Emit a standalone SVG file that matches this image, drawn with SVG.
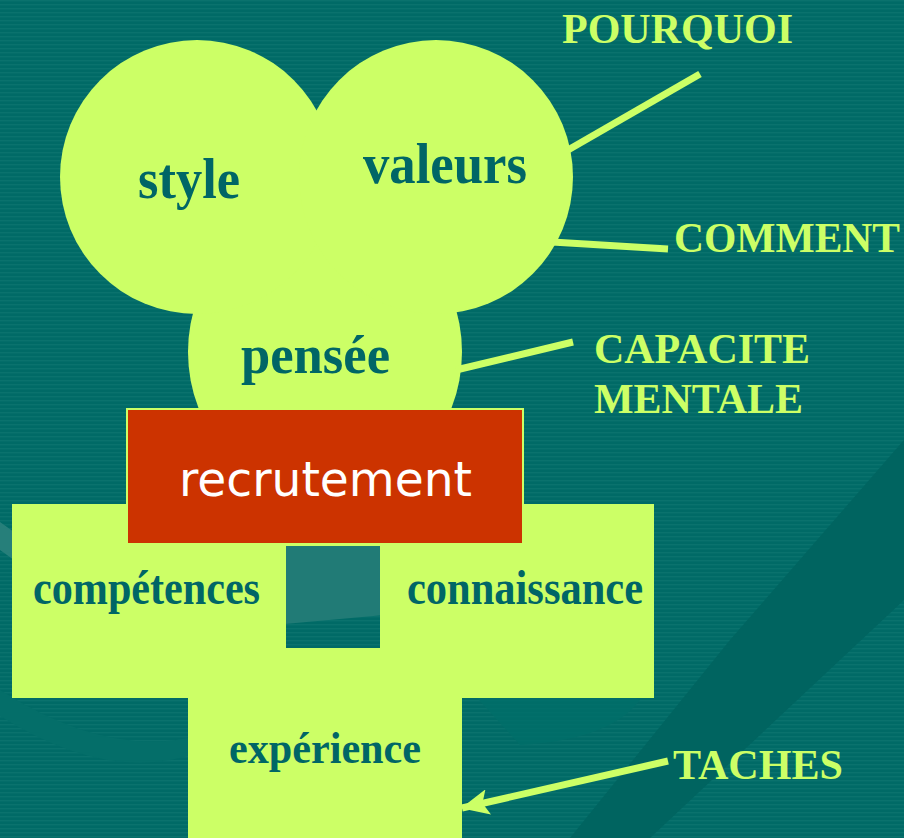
<svg xmlns="http://www.w3.org/2000/svg" width="904" height="838" viewBox="0 0 904 838">
  <defs>
    <pattern id="stripes" x="0" y="0" width="8" height="4" patternUnits="userSpaceOnUse">
      <rect x="0" y="0" width="8" height="4" fill="#006A66"/>
      <rect x="0" y="0" width="8" height="1.4" fill="#0A726D"/>
    </pattern>
    <marker id="arrow" viewBox="0 0 28 26" refX="27" refY="13" markerWidth="28" markerHeight="26" orient="auto" markerUnits="userSpaceOnUse">
      <path d="M0,0 L28,13 L0,26 L6,13 Z" fill="#CCFF66"/>
    </marker>
    <style>
      .shape { fill: #CCFF66; }
      .node { font-family: "Liberation Serif", "Times New Roman", serif; font-weight: bold; fill: #006666; }
      .label { font-family: "Liberation Serif", "Times New Roman", serif; font-weight: bold; fill: #CCFF66; font-size: 42px; }
      .conn { stroke: #CCFF66; stroke-width: 7; fill: none; }
      .title { font-family: "DejaVu Sans", Verdana, sans-serif; fill: #FFFFFF; font-size: 48px; }
    </style>
  </defs>

  <g id="background">
    <rect x="0" y="0" width="904" height="838" fill="url(#stripes)"/>
    <polygon points="904,440 904,600 650,838 570,838 730,640" fill="#006460"/>
    <path d="M470,690 Q560,660 640,700 Q610,740 520,745 Z" fill="#006E69" opacity="0.8"/>
    <polygon points="240,540 440,540 440,610 240,628" fill="#217B76"/>
    <path d="M0,522 L14,532 L14,560 L0,550 Z" fill="#267F7A"/>
    <path d="M0,690 Q110,760 200,735 L200,752 Q110,785 0,716 Z" fill="#046E69"/>
  </g>

  <g id="pensee">
    <ellipse class="shape" cx="325" cy="352" rx="137" ry="146"/>
  </g>
  <g id="style">
    <ellipse class="shape" cx="197" cy="177" rx="137" ry="137"/>
  </g>
  <g id="valeurs">
    <ellipse class="shape" cx="436" cy="177" rx="137" ry="137"/>
  </g>
  <g id="style-text">
    <text class="node" x="138" y="198" font-size="56" textLength="102" lengthAdjust="spacingAndGlyphs">style</text>
  </g>
  <g id="valeurs-text">
    <text class="node" x="363" y="183" font-size="56" textLength="164" lengthAdjust="spacingAndGlyphs">valeurs</text>
  </g>
  <g id="pensee-text">
    <text class="node" x="241" y="373" font-size="54" textLength="149" lengthAdjust="spacingAndGlyphs">pensée</text>
  </g>

  <g id="cross">
    <path class="shape" fill-rule="evenodd" d="M12,504 H654 V698 H462 V838 H188 V698 H12 Z M286,546 H380 V648 H286 Z"/>
  </g>
  <g id="competences">
    <text class="node" x="33" y="604" font-size="48" textLength="227" lengthAdjust="spacingAndGlyphs">compétences</text>
  </g>
  <g id="connaissance">
    <text class="node" x="407" y="604" font-size="48" textLength="236" lengthAdjust="spacingAndGlyphs">connaissance</text>
  </g>
  <g id="experience">
    <text class="node" x="229" y="763" font-size="44" textLength="192" lengthAdjust="spacingAndGlyphs">expérience</text>
  </g>

  <g id="recrutement">
    <rect x="127" y="409" width="396" height="135" fill="#CC3300" stroke="#CCFF66" stroke-width="2"/>
    <text class="title" x="179" y="496" textLength="293" lengthAdjust="spacingAndGlyphs">recrutement</text>
  </g>

  <g id="connectors">
    <line class="conn" x1="700" y1="74" x2="568" y2="150"/>
    <line class="conn" x1="552" y1="242" x2="668" y2="249"/>
    <line class="conn" x1="456" y1="370" x2="573" y2="342"/>
    <line class="conn" x1="668" y1="761" x2="462" y2="808" marker-end="url(#arrow)"/>
  </g>

  <g id="pourquoi">
    <text class="label" x="562" y="43" textLength="231" lengthAdjust="spacingAndGlyphs">POURQUOI</text>
  </g>
  <g id="comment">
    <text class="label" x="674" y="252" textLength="226" lengthAdjust="spacingAndGlyphs">COMMENT</text>
  </g>
  <g id="capacite-mentale">
    <text class="label" x="594" y="363" textLength="216" lengthAdjust="spacingAndGlyphs">CAPACITE</text>
    <text class="label" x="594" y="413" textLength="209" lengthAdjust="spacingAndGlyphs">MENTALE</text>
  </g>
  <g id="taches">
    <text class="label" x="673" y="779" textLength="170" lengthAdjust="spacingAndGlyphs">TACHES</text>
  </g>
</svg>
